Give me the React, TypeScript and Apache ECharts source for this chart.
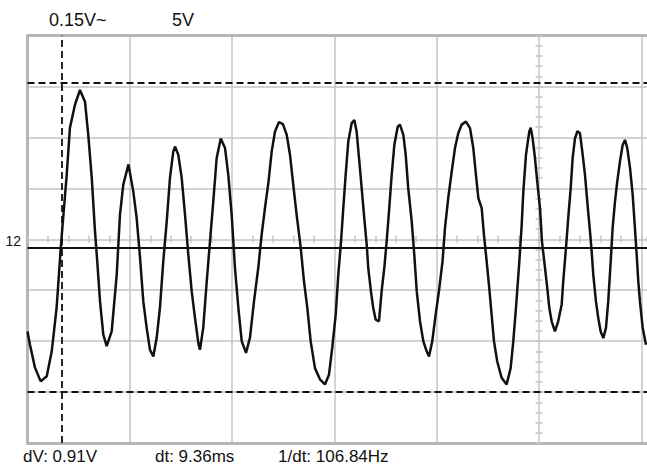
import React, { useEffect, useRef } from "react";
import * as echarts from "echarts";

// Channel 1 trace: time in divisions, voltage in divisions
const timeDiv = [
  0.0, 0.024, 0.073, 0.129, 0.188, 0.237, 0.285, 0.325, 0.357, 0.383,
  0.415, 0.464, 0.513, 0.562, 0.594, 0.628, 0.66, 0.682, 0.709, 0.741,
  0.774, 0.823, 0.872, 0.904, 0.936, 0.987, 1.034, 1.067, 1.1, 1.132,
  1.165, 1.197, 1.23, 1.263, 1.295, 1.327, 1.361, 1.393, 1.425, 1.442,
  1.474, 1.507, 1.54, 1.572, 1.605, 1.637, 1.67, 1.686, 1.718, 1.752,
  1.784, 1.816, 1.849, 1.889, 1.931, 1.963, 1.996, 2.028, 2.061, 2.094,
  2.136, 2.175, 2.214, 2.256, 2.289, 2.322, 2.356, 2.387, 2.419, 2.458,
  2.497, 2.534, 2.566, 2.598, 2.631, 2.671, 2.703, 2.735, 2.768, 2.81,
  2.859, 2.908, 2.947, 2.979, 3.013, 3.038, 3.065, 3.087, 3.11, 3.136,
  3.169, 3.195, 3.218, 3.241, 3.267, 3.292, 3.316, 3.331, 3.357, 3.38,
  3.404, 3.436, 3.462, 3.488, 3.511, 3.534, 3.56, 3.586, 3.619, 3.641,
  3.674, 3.697, 3.722, 3.756, 3.781, 3.805, 3.837, 3.869, 3.902, 3.925,
  3.957, 3.99, 4.022, 4.057, 4.081, 4.113, 4.147, 4.179, 4.211, 4.244,
  4.286, 4.326, 4.358, 4.384, 4.407, 4.44, 4.462, 4.489, 4.514, 4.537,
  4.56, 4.592, 4.635, 4.684, 4.723, 4.749, 4.775, 4.808, 4.831, 4.847,
  4.873, 4.905, 4.919, 4.938, 4.961, 4.983, 5.01, 5.029, 5.059, 5.081,
  5.101, 5.124, 5.156, 5.188, 5.222, 5.237, 5.264, 5.286, 5.31, 5.329,
  5.352, 5.376, 5.401, 5.427, 5.45, 5.472, 5.499, 5.515, 5.531, 5.557,
  5.58, 5.603, 5.629, 5.655, 5.677, 5.701, 5.72, 5.743, 5.765, 5.792,
  5.818, 5.841, 5.863, 5.89, 5.916, 5.938, 5.955, 5.971, 5.987, 6.014,
  6.046,
];

const voltDiv = [
  -1.81, -2.07, -2.52, -2.79, -2.69, -2.2, -1.34, -0.17, 0.62, 1.26,
  2.19, 2.64, 2.93, 2.7, 2.05, 1.21, 0.15, -0.44, -1.22, -1.87,
  -2.1, -1.81, -0.7, 0.48, 1.07, 1.47, 0.94, 0.42, -0.36, -1.22,
  -1.74, -2.17, -2.3, -1.93, -1.34, -0.44, 0.35, 1.21, 1.72, 1.82,
  1.66, 1.21, 0.48, -0.3, -1.02, -1.54, -2.04, -2.17, -1.74, -0.83,
  -0.04, 0.74, 1.59, 1.98, 1.79, 1.26, 0.48, -0.56, -1.34, -2.0,
  -2.23, -1.93, -1.22, -0.56, 0.09, 0.62, 1.13, 1.72, 2.11, 2.3,
  2.26, 2.05, 1.66, 1.07, 0.48, -0.17, -0.83, -1.34, -2.0, -2.53,
  -2.75, -2.85, -2.66, -2.13, -1.48, -0.7, -0.04, 0.61, 1.26, 1.92,
  2.28, 2.34, 2.11, 1.59, 1.0, 0.42, -0.11, -0.56, -1.02, -1.35,
  -1.58, -1.61, -1.02, -0.56, -0.04, 0.55, 1.26, 1.85, 2.21, 2.25,
  2.05, 1.66, 1.0, 0.35, -0.3, -1.02, -1.61, -2.0, -2.2, -2.3,
  -2.0, -1.48, -1.02, -0.44, 0.22, 0.81, 1.33, 1.79, 2.08, 2.25,
  2.31, 2.18, 1.79, 1.26, 0.81, 0.61, 0.09, -0.44, -0.96, -1.48,
  -2.0, -2.4, -2.72, -2.85, -2.53, -2.0, -1.35, -0.44, 0.28, 0.94,
  1.66, 2.11, 2.19, 1.98, 1.59, 1.13, 0.61, -0.04, -0.56, -0.96,
  -1.35, -1.61, -1.81, -1.61, -1.28, -0.83, -0.17, 0.42, 1.0, 1.59,
  1.98, 2.12, 2.08, 1.66, 1.26, 0.74, 0.15, -0.24, -0.7, -1.22,
  -1.55, -1.81, -1.94, -1.74, -1.22, -0.44, 0.22, 0.74, 1.13, 1.53,
  1.85, 1.95, 1.79, 1.4, 0.87, 0.22, -0.3, -0.83, -1.22, -1.74,
  -2.07,
];

// Channel 2 flat level, cursors (divisions)
const ch2Level = [-0.16];
const cursorLevels = [3.08, -2.99];
const cursorTimes = [0.325];

// Screen texts
const headerLabels = ["0.15V~", "5V"];
const readouts = ["dV: 0.91V", "dt: 9.36ms", "1/dt: 106.84Hz"];
const channelLabel = "12";

const X_MAX = 6.056;
const GRID_GRAY = "#c4c4c4";
const BORDER_GRAY = "#b6b6b6";
const INK = "#111111";
const FONT = "'Liberation Sans', Arial, sans-serif";

export default function App() {
  const ref = useRef<HTMLDivElement>(null);

  useEffect(() => {
    if (!ref.current) return;
    const chart = echarts.init(ref.current, null, { renderer: "svg" });

    const hidden = {
      axisLabel: { show: false },
      splitLine: { show: false },
      axisTick: { show: false },
    };
    const tickStyle = { color: GRID_GRAY, width: 1.5 };

    const xBase = { type: "value", min: 0, max: X_MAX, ...hidden };
    const yBase = { type: "value", min: -4, max: 4, ...hidden };

    const option: any = {
      animation: false,
      backgroundColor: "#ffffff",
      grid: { left: 27.5, top: 35.5, right: 0, bottom: 22 },
      xAxis: [
        {
          ...xBase,
          position: "bottom",
          interval: 1,
          axisLine: { show: true, onZero: false, lineStyle: { color: BORDER_GRAY, width: 3 } },
          splitLine: {
            show: true,
            showMinLine: false,
            showMaxLine: false,
            lineStyle: { color: GRID_GRAY, width: 1.5 },
          },
        },
        {
          ...xBase,
          position: "top",
          axisLine: { show: true, onZero: false, lineStyle: { color: BORDER_GRAY, width: 3 } },
        },
        {
          ...xBase,
          position: "bottom",
          offset: -203.75,
          interval: 0.2,
          axisLine: { show: false, onZero: false },
          axisTick: { show: true, inside: false, length: 3.5, lineStyle: tickStyle },
        },
        {
          ...xBase,
          position: "bottom",
          offset: -203.75,
          interval: 0.2,
          axisLine: { show: false, onZero: false },
          axisTick: { show: true, inside: true, length: 3.5, lineStyle: tickStyle },
        },
      ],
      yAxis: [
        {
          ...yBase,
          position: "left",
          interval: 1,
          axisLine: { show: true, onZero: false, lineStyle: { color: BORDER_GRAY, width: 3 } },
          splitLine: {
            show: true,
            showMinLine: false,
            showMaxLine: false,
            lineStyle: { color: GRID_GRAY, width: 1.5 },
          },
        },
        {
          ...yBase,
          position: "left",
          offset: -511.5,
          interval: 0.2,
          axisLine: { show: false, onZero: false },
          axisTick: { show: true, inside: false, length: 3.5, lineStyle: tickStyle },
        },
        {
          ...yBase,
          position: "left",
          offset: -511.5,
          interval: 0.2,
          axisLine: { show: false, onZero: false },
          axisTick: { show: true, inside: true, length: 3.5, lineStyle: tickStyle },
        },
      ],
      series: [
        {
          type: "line",
          name: "CH1",
          xAxisIndex: 0,
          yAxisIndex: 0,
          data: timeDiv.map((t, i) => [t, voltDiv[i]]),
          showSymbol: false,
          symbol: "none",
          lineStyle: { color: INK, width: 2.5 },
          z: 5,
          markLine: {
            silent: true,
            symbol: ["none", "none"],
            label: { show: false },
            data: [
              ...ch2Level.map((v) => ({
                yAxis: v,
                lineStyle: { color: INK, width: 1.8, type: "solid" },
              })),
              ...cursorLevels.map((v) => ({
                yAxis: v,
                lineStyle: { color: INK, width: 1.8, type: [7, 4] },
              })),
              ...cursorTimes.map((v) => ({
                xAxis: v,
                lineStyle: { color: INK, width: 1.8, type: [7, 4] },
              })),
            ],
          },
        },
      ],
      graphic: [
        {
          type: "text",
          x: 49,
          y: 19.5,
          style: { text: headerLabels[0], fontSize: 18, fontFamily: FONT, fill: INK, verticalAlign: "middle" },
        },
        {
          type: "text",
          x: 172,
          y: 19.5,
          style: { text: headerLabels[1], fontSize: 18, fontFamily: FONT, fill: INK, verticalAlign: "middle" },
        },
        {
          type: "text",
          x: 21,
          y: 241,
          style: { text: channelLabel, fontSize: 14, fontFamily: FONT, fill: INK, align: "right", verticalAlign: "middle" },
        },
        {
          type: "text",
          x: 23,
          y: 456,
          style: { text: readouts[0], fontSize: 17, fontFamily: FONT, fill: INK, verticalAlign: "middle" },
        },
        {
          type: "text",
          x: 155,
          y: 456,
          style: { text: readouts[1], fontSize: 17, fontFamily: FONT, fill: INK, verticalAlign: "middle" },
        },
        {
          type: "text",
          x: 278,
          y: 456,
          style: { text: readouts[2], fontSize: 17, fontFamily: FONT, fill: INK, verticalAlign: "middle" },
        },
      ],
    };

    chart.setOption(option);
    return () => chart.dispose();
  }, []);

  return (
    <div
      ref={ref}
      style={{ position: "absolute", left: 0, top: 0, width: 647, height: 465, background: "#ffffff" }}
    />
  );
}
